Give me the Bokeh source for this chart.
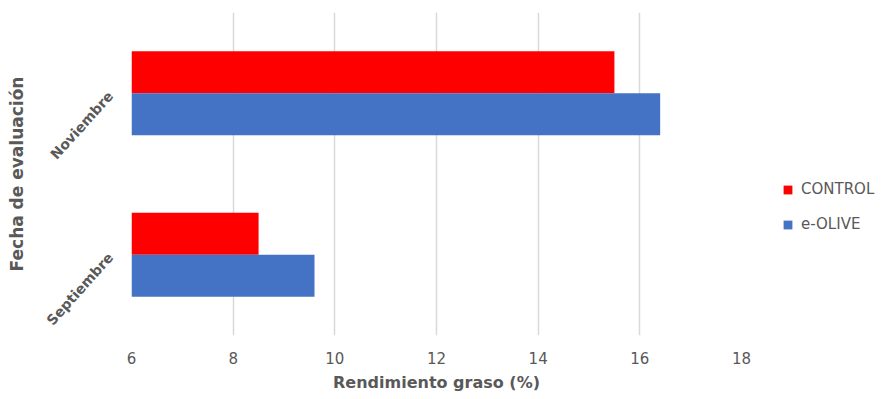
import math
from bokeh.plotting import figure
from bokeh.models import ColumnDataSource, FactorRange, Range1d, Legend, LegendItem, FixedTicker
from bokeh.transform import dodge
from bokeh.embed import file_html
from bokeh.resources import INLINE

fechas = ["Septiembre", "Noviembre"]
control = [8.5, 15.5]
eolive = [9.6, 16.4]
x_ticks = [6, 8, 10, 12, 14, 16, 18]

src = ColumnDataSource(dict(fecha=fechas, control=control, eolive=eolive))

FONT = "DejaVu Sans"
GREY = "#595959"

p = figure(frame_width=610, frame_height=323, output_backend="svg", toolbar_location=None,
           y_range=FactorRange(factors=fechas), x_range=Range1d(6, 18),
           min_border_left=131, min_border_right=143, min_border_top=12, min_border_bottom=64)
p.outline_line_color = None

r1 = p.hbar(y=dodge("fecha", 0.13, range=p.y_range), left=6, right="control", height=0.26,
            source=src, fill_color="#FF0000", line_color=None)
r2 = p.hbar(y=dodge("fecha", -0.13, range=p.y_range), left=6, right="eolive", height=0.26,
            source=src, fill_color="#4472C4", line_color=None)

p.xaxis.ticker = FixedTicker(ticks=x_ticks)
p.xgrid.grid_line_color = "#D9D9D9"
p.xgrid.grid_line_width = 1.5
p.ygrid.grid_line_color = None

for ax in (p.xaxis[0], p.yaxis[0]):
    ax.axis_line_color = None
    ax.major_tick_line_color = None
    ax.minor_tick_line_color = None
    ax.major_label_text_font = FONT
    ax.major_label_text_color = GREY
    ax.axis_label_text_font = FONT
    ax.axis_label_text_color = GREY
    ax.axis_label_text_font_style = "bold"
    ax.axis_label_text_font_size = "16px"

p.xaxis.major_label_text_font_size = "15px"
p.yaxis.major_label_text_font_size = "14px"
p.yaxis.major_label_text_font_style = "bold"
p.xaxis.axis_label = "Rendimiento graso (%)"
p.yaxis.axis_label = "Fecha de evaluación"
p.yaxis.axis_label_text_font_size = "17px"
p.xaxis.major_label_standoff = 10
p.xaxis.axis_label_standoff = 6
p.yaxis.major_label_orientation = math.radians(48)
p.yaxis.major_label_standoff = 15
p.yaxis.axis_label_standoff = 7

legend = Legend(items=[LegendItem(label="CONTROL", renderers=[r1]),
                       LegendItem(label="e-OLIVE", renderers=[r2])],
                location=(41, 102), border_line_color=None, background_fill_alpha=0,
                label_text_font=FONT, label_text_color=GREY, label_text_font_size="15px",
                glyph_width=11, glyph_height=11, spacing=17, label_standoff=8, padding=10)
p.add_layout(legend, "right")

open("out.html", "w").write(file_html(p, INLINE))
